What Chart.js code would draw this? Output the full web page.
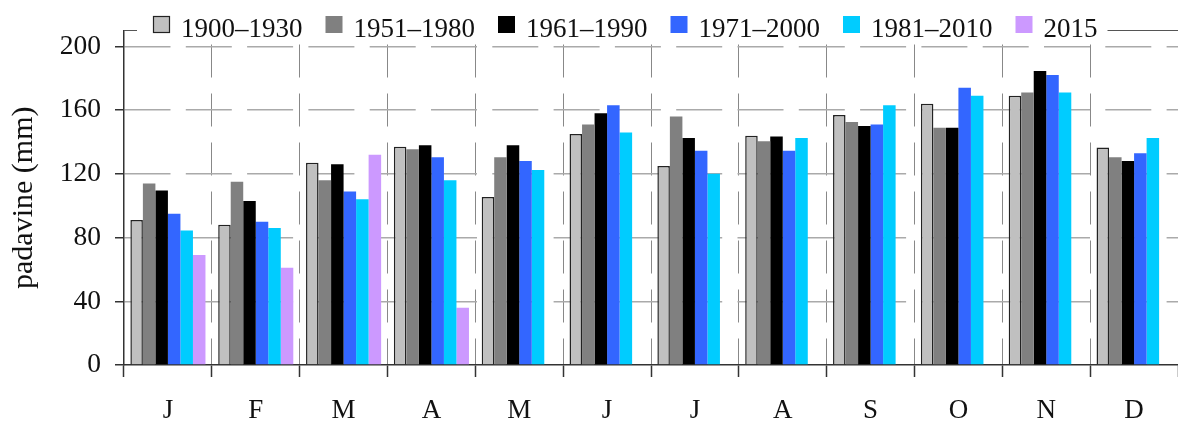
<!DOCTYPE html>
<html>
<head>
<meta charset="utf-8">
<script src="https://cdn.jsdelivr.net/npm/chart.js@4.4.0/dist/chart.umd.min.js"></script>
<style>
  html, body { margin: 0; padding: 0; background: #fff; }
</style>
</head>
<body>
<canvas id="chart" width="1178" height="421"></canvas>
<script>
// monthly precipitation, reference periods vs. 2015
const months = ['J', 'F', 'M', 'A', 'M', 'J', 'J', 'A', 'S', 'O', 'N', 'D'];
const periods = ['1900–1930', '1951–1980', '1961–1990', '1971–2000', '1981–2010', '2015'];

const p1900 = [91, 88, 127, 137, 105.5, 145, 125, 144, 157, 164, 169, 136.5];
const p1951 = [114, 115, 116, 135.5, 130.5, 151, 156, 140.5, 152.5, 149, 171, 130.5];
const p1961 = [109.5, 103, 126, 138, 138, 158, 142.5, 143.5, 150, 149, 184.5, 128];
const p1971 = [95, 90, 109, 130.5, 128, 163, 134.5, 134.5, 151, 174, 182, 133];
const p1981 = [84.5, 86, 104, 116, 122.5, 146, 120, 142.5, 163, 169, 171, 142.5];
const p2015 = [69, 61, 132, 36, null, null, null, null, null, null, null, null];

const yTicks = [0, 40, 80, 120, 160, 200];

const colors = ['#c0c0c0', '#808080', '#000000', '#3366ff', '#00ccff', '#cc99ff'];
const serif = 'Liberation Serif';

const series = [p1900, p1951, p1961, p1971, p1981, p2015];
const datasets = series.map((data, i) => ({
    label: periods[i],
    data: data,
    backgroundColor: colors[i],
    borderColor: i === 0 ? '#222' : colors[i],
    borderWidth: i === 0 ? 1.5 : 0,
    barPercentage: 1,
    categoryPercentage: 0.855
}));

// legend sits on the top frame line, with a white backing
const topLegend = {
    id: 'topLegend',
    afterDraw(chart) {
        const ctx = chart.ctx;
        const area = chart.chartArea;
        ctx.save();
        ctx.strokeStyle = '#555';
        ctx.lineWidth = 1.2;
        ctx.beginPath();
        ctx.moveTo(area.left, area.top);
        ctx.lineTo(area.right, area.top);
        ctx.stroke();

        ctx.font = '27px "' + serif + '"';
        let x = 153;
        const items = periods.map(p => {
            const w = ctx.measureText(p).width;
            const it = { x: x, w: w };
            x += 17 + 11 + w + 23;
            return it;
        });
        ctx.fillStyle = '#fff';
        ctx.fillRect(137, 10, x - 23 + 10 - 137, 30);

        items.forEach((it, i) => {
            ctx.fillStyle = colors[i];
            ctx.fillRect(it.x, 16, 17, 17);
            if (i === 0) {
                ctx.strokeStyle = '#222';
                ctx.lineWidth = 1.2;
                ctx.strokeRect(it.x + 0.5, 16.5, 16, 16);
            }
            ctx.fillStyle = '#111';
            ctx.textBaseline = 'alphabetic';
            ctx.fillText(periods[i], it.x + 28, 37);
        });
        ctx.restore();
    }
};

new Chart(document.getElementById('chart'), {
    type: 'bar',
    data: { labels: months, datasets: datasets },
    options: {
        responsive: false,
        devicePixelRatio: 1,
        animation: false,
        layout: { padding: { top: 29, right: -8, left: 0, bottom: 0 } },
        plugins: {
            legend: { display: false },
            tooltip: { enabled: false }
        },
        scales: {
            x: {
                grid: {
                    offset: true,
                    color: '#888',
                    lineWidth: 1,
                    tickLength: 12,
                    tickColor: '#333',
                    tickWidth: 1.5,
                    tickBorderDash: []
                },
                border: { display: true, color: '#333', width: 1.5, dash: [33, 16], dashOffset: 35 },
                ticks: { font: { family: serif, size: 27 }, color: '#111', padding: 18 },
                afterFit(s) { s.height = 56; }
            },
            y: {
                min: 0,
                max: 210,
                afterBuildTicks(s) { s.ticks = yTicks.map(v => ({ value: v })); },
                grid: {
                    color: c => (c.tick && c.tick.value === 0) ? 'rgba(0,0,0,0)' : '#aaa',
                    lineWidth: 1.5,
                    tickLength: 9,
                    tickColor: '#333',
                    tickWidth: 1.5,
                    tickBorderDash: []
                },
                border: { display: true, color: '#333', width: 1.5, dash: [46, 15.3], dashOffset: 0 },
                ticks: { font: { family: serif, size: 27.5 }, color: '#111', padding: 14 },
                title: {
                    display: true,
                    text: 'padavine (mm)',
                    font: { family: serif, size: 30 },
                    color: '#111',
                    padding: { top: 6, bottom: 0 }
                },
                afterFit(s) { s.width = 124; }
            }
        }
    },
    plugins: [topLegend]
});
</script>
</body>
</html>
